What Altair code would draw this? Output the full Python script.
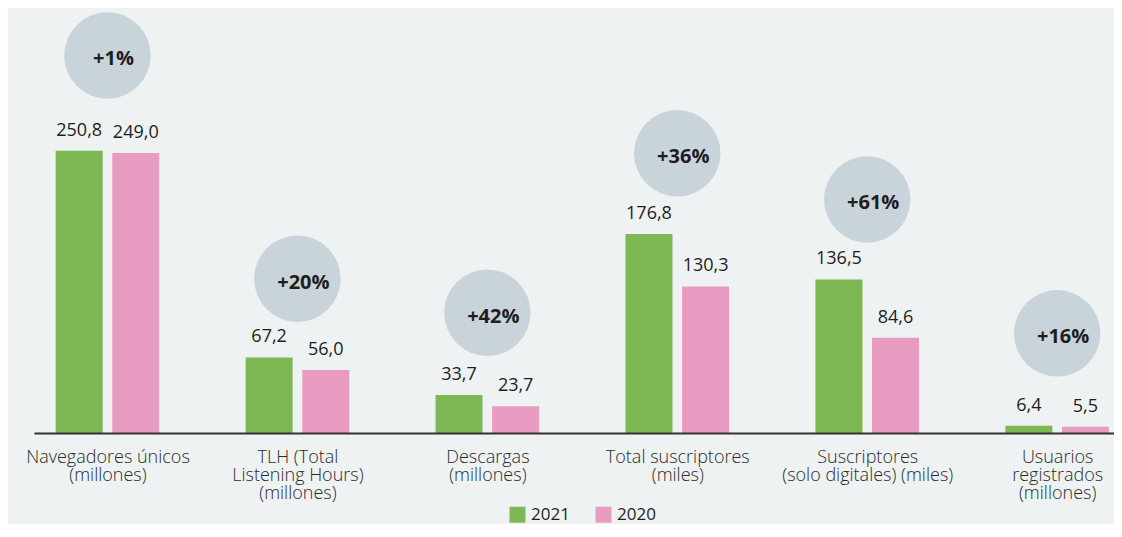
import altair as alt
import pandas as pd

# ---- data ----
label_lines = [
    ["Navegadores únicos", "(millones)"],
    ["TLH (Total", "Listening Hours)", "(millones)"],
    ["Descargas", "(millones)"],
    ["Total suscriptores", "(miles)"],
    ["Suscriptores", "(solo digitales) (miles)"],
    ["Usuarios", "registrados", "(millones)"],
]
years = ["2021", "2020"]
values_2021 = [250.8, 67.2, 33.7, 176.8, 136.5, 6.4]
values_2020 = [249.0, 56.0, 23.7, 130.3, 84.6, 5.5]
changes = ["+1%", "+20%", "+42%", "+36%", "+61%", "+16%"]
bubble_level = [335.6, 137.1, 106.9, 248.7, 207.6, 88.6]

# ---- tables ----
rows = []
for i in range(len(label_lines)):
    for y, vals, off in ((years[0], values_2021, -0.149), (years[1], values_2020, 0.149)):
        rows.append({
            "pos": i + off,
            "year": y,
            "value": vals[i],
            "label": f"{vals[i]:.1f}".replace(".", ","),
        })
bars_df = pd.DataFrame(rows)

bubble_df = pd.DataFrame({
    "pos": list(range(len(label_lines))),
    "value": bubble_level,
    "change": changes,
})

FONT = "Open Sans"
TEXT = "#1e1e1e"

label_expr = "[" + ",".join(
    "[" + ",".join("'" + s + "'" for s in lines) + "]" for lines in label_lines
) + "][round(datum.value)]"

x_scale = alt.Scale(domain=[-0.3605, 5.273], nice=False, zero=False)
y_scale = alt.Scale(domain=[0, 377.8], nice=False, zero=True)


def xenc():
    return alt.X(
        "pos:Q",
        scale=x_scale,
        axis=alt.Axis(
            values=list(range(len(label_lines))),
            labelExpr=label_expr,
            title=None,
            ticks=False,
            grid=False,
            domainColor="#333333",
            domainWidth=2,
            labelFont=FONT,
            labelFontSize=18,
            labelFontWeight=300,
            labelLineHeight=18,
            labelPadding=15,
            labelColor="#2a2a2a",
            labelOverlap=False,
            labelFlush=False,
            labelBound=False,
            zindex=1,
        ),
    )


def yenc():
    return alt.Y("value:Q", scale=y_scale, axis=None)


bubbles = alt.Chart(bubble_df).mark_circle(
    size=7480, color="#c9d4da", opacity=1
).encode(x=xenc(), y=yenc())

bubble_text = alt.Chart(bubble_df).mark_text(
    font=FONT, fontSize=20, fontWeight="bold", color=TEXT,
    align="center", baseline="middle", dx=6, dy=4
).encode(x=xenc(), y=yenc(), text="change:N")

bars = alt.Chart(bars_df).mark_bar(width=47).encode(
    x=xenc(),
    y=alt.Y("value:Q", scale=y_scale, axis=None, stack=None),
    y2=alt.datum(0),
    color=alt.Color(
        "year:N",
        scale=alt.Scale(domain=years, range=["#7db854", "#e99cc1"]),
        legend=alt.Legend(
            orient="none",
            legendX=475,
            legendY=498,
            direction="horizontal",
            title=None,
            symbolType="square",
            symbolSize=256,
            symbolStrokeWidth=0,
            symbolOpacity=1,
            labelFont=FONT,
            labelFontSize=17,
            labelColor=TEXT,
            labelOffset=5,
            columnPadding=25,
            padding=0,
        ),
    ),
)

value_text = alt.Chart(bars_df).mark_text(
    font=FONT, fontSize=18, color=TEXT, align="center", baseline="bottom", dy=-11
).encode(x=xenc(), y=yenc(), text="label:N")

chart = alt.layer(bubbles, bubble_text, bars, value_text).properties(
    width=1080,
    height=425,
    autosize=alt.AutoSizeParams(type="none"),
    padding={"left": 26, "top": 0, "right": 0, "bottom": 91},
    background="#eef2f3",
).configure_view(stroke=None)

chart.save("out.html", embed_options={"renderer": "svg", "actions": False})
